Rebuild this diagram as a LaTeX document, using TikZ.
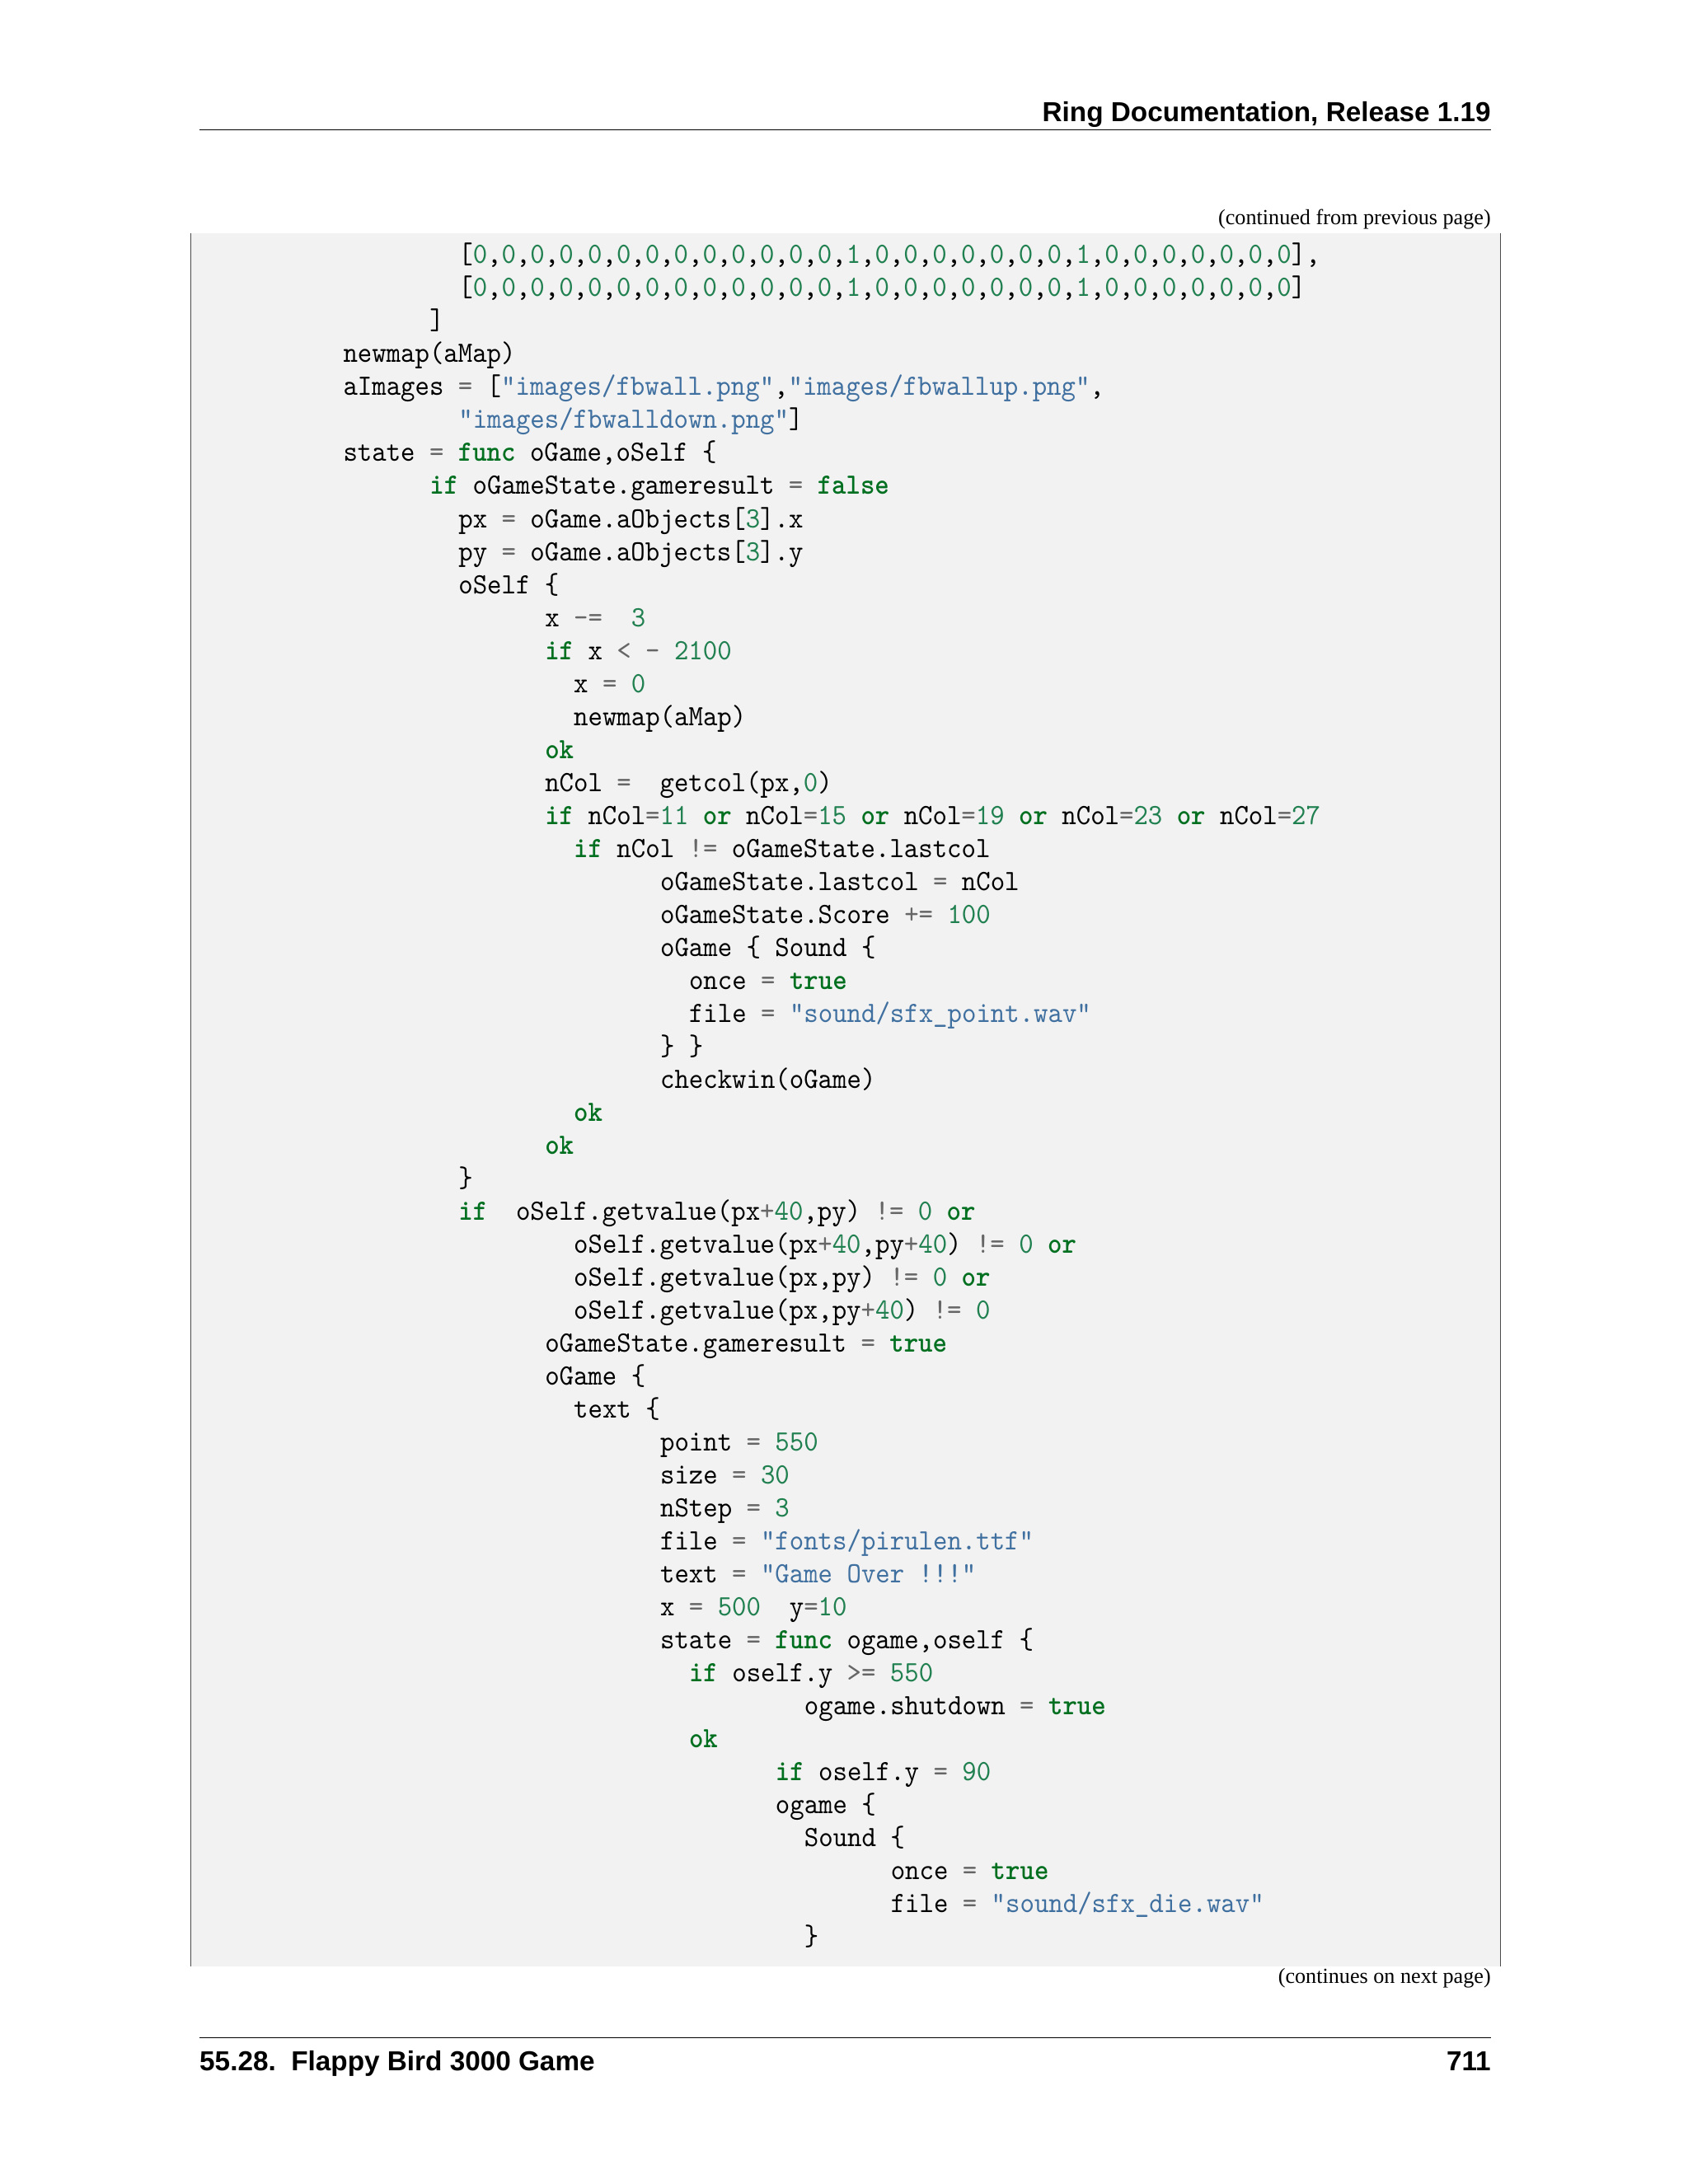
\documentclass[tikz,border=0pt]{standalone}
\usepackage{fontspec}
\setmainfont{Liberation Serif}
\newfontfamily\hdfont{Liberation Sans}
\newfontfamily\code{lmmono10-regular.otf}[BoldFont=lmmonolt10-bold.otf,FakeStretch=0.93,Ligatures=ResetAll]
\definecolor{kw}{HTML}{007020}
\definecolor{nu}{HTML}{208050}
\definecolor{st}{HTML}{4070A0}
\definecolor{op}{HTML}{666666}
\definecolor{bg}{HTML}{F2F2F2}
\newcommand\cK[1]{\textcolor{kw}{\bfseries #1}}
\newcommand\cN[1]{\textcolor{nu}{#1}}
\newcommand\cO[1]{\textcolor{op}{#1}}
\newcommand\cS[1]{\textcolor{st}{#1}}
\newcommand\Zr{\cN{0}}
\newcommand\On{\cN{1}}
\newcommand\rowA{[\Zr,\Zr,\Zr,\Zr,\Zr,\Zr,\Zr,\Zr,\Zr,\Zr,\Zr,\Zr,\Zr,\On,\Zr,\Zr,\Zr,\Zr,\Zr,\Zr,\Zr,\On,\Zr,\Zr,\Zr,\Zr,\Zr,\Zr,\Zr]}
\tikzset{codeline/.style={anchor=base west,inner sep=0pt,font=\code\fontsize{30}{30}\selectfont},
 hdtext/.style={inner sep=0pt,font=\hdfont\bfseries\fontsize{28}{28}\selectfont},
 smalltext/.style={anchor=base east,inner sep=0pt,font=\fontsize{22}{22}\selectfont}}
\newcommand\CL[3]{\node[codeline] (l#1) at ({246+#2*10.33},{183+(#1-1)*23.65+6}) {#3};}
\begin{document}
\begin{tikzpicture}[x=0.05cm,y=-0.05cm]
\useasboundingbox (0,0) rectangle (1210,1566);
\node[hdtext,anchor=base east] (hd) at (1069,87) {Ring Documentation, Release 1.19};
\draw[line width=0.8pt] (143,93) -- (1069,93);
\node[smalltext] (cont) at (1069,161) {(continued from previous page)};
\fill[bg] (137,167) rectangle (1076,1410);
\draw[line width=1pt,black!70] (137,167) -- (137,1410);
\draw[line width=1pt,black!70] (1076,167) -- (1076,1410);
\CL{1}{8}{\rowA,}
\CL{2}{8}{\rowA}
\CL{3}{6}{]}
\CL{4}{0}{newmap(aMap)}
\CL{5}{0}{aImages \cO{=} [\cS{"images/fbwall.png"},\cS{"images/fbwallup.png"},}
\CL{6}{8}{\cS{"images/fbwalldown.png"}]}
\CL{7}{0}{state \cO{=} \cK{func} oGame,oSelf \{}
\CL{8}{6}{\cK{if} oGameState.gameresult \cO{=} \cK{false}}
\CL{9}{8}{px \cO{=} oGame.aObjects[\cN{3}].x}
\CL{10}{8}{py \cO{=} oGame.aObjects[\cN{3}].y}
\CL{11}{8}{oSelf \{}
\CL{12}{14}{x \cO{-=}\ \ \cN{3}}
\CL{13}{14}{\cK{if} x \cO{<} \cO{-} \cN{2100}}
\CL{14}{16}{x \cO{=} \cN{0}}
\CL{15}{16}{newmap(aMap)}
\CL{16}{14}{\cK{ok}}
\CL{17}{14}{nCol \cO{=}\ \ getcol(px,\cN{0})}
\CL{18}{14}{\cK{if} nCol\cO{=}\cN{11} \cK{or} nCol\cO{=}\cN{15} \cK{or} nCol\cO{=}\cN{19} \cK{or} nCol\cO{=}\cN{23} \cK{or} nCol\cO{=}\cN{27}}
\CL{19}{16}{\cK{if} nCol \cO{!=} oGameState.lastcol}
\CL{20}{22}{oGameState.lastcol \cO{=} nCol}
\CL{21}{22}{oGameState.Score \cO{+=} \cN{100}}
\CL{22}{22}{oGame \{ Sound \{}
\CL{23}{24}{once \cO{=} \cK{true}}
\CL{24}{24}{file \cO{=} \cS{"sound/sfx\_point.wav"}}
\CL{25}{22}{\} \}}
\CL{26}{22}{checkwin(oGame)}
\CL{27}{16}{\cK{ok}}
\CL{28}{14}{\cK{ok}}
\CL{29}{8}{\}}
\CL{30}{8}{\cK{if}\ \ oSelf.getvalue(px\cO{+}\cN{40},py) \cO{!=} \cN{0} \cK{or}}
\CL{31}{16}{oSelf.getvalue(px\cO{+}\cN{40},py\cO{+}\cN{40}) \cO{!=} \cN{0} \cK{or}}
\CL{32}{16}{oSelf.getvalue(px,py) \cO{!=} \cN{0} \cK{or}}
\CL{33}{16}{oSelf.getvalue(px,py\cO{+}\cN{40}) \cO{!=} \cN{0}}
\CL{34}{14}{oGameState.gameresult \cO{=} \cK{true}}
\CL{35}{14}{oGame \{}
\CL{36}{16}{text \{}
\CL{37}{22}{point \cO{=} \cN{550}}
\CL{38}{22}{size \cO{=} \cN{30}}
\CL{39}{22}{nStep \cO{=} \cN{3}}
\CL{40}{22}{file \cO{=} \cS{"fonts/pirulen.ttf"}}
\CL{41}{22}{text \cO{=} \cS{"Game Over !!!"}}
\CL{42}{22}{x \cO{=} \cN{500}\ \ y\cO{=}\cN{10}}
\CL{43}{22}{state \cO{=} \cK{func} ogame,oself \{}
\CL{44}{24}{\cK{if} oself.y \cO{>=} \cN{550}}
\CL{45}{32}{ogame.shutdown \cO{=} \cK{true}}
\CL{46}{24}{\cK{ok}}
\CL{47}{30}{\cK{if} oself.y \cO{=} \cN{90}}
\CL{48}{30}{ogame \{}
\CL{49}{32}{Sound \{}
\CL{50}{38}{once \cO{=} \cK{true}}
\CL{51}{38}{file \cO{=} \cS{"sound/sfx\_die.wav"}}
\CL{52}{32}{\}}
\node[smalltext] (cnext) at (1069,1422) {(continues on next page)};
\draw[line width=0.8pt] (143,1461) -- (1069,1461);
\node[hdtext,anchor=base west] (ft) at (143,1485) {55.28.\ \ Flappy Bird 3000 Game};
\node[hdtext,anchor=base east] (pg) at (1069,1485) {711};
\end{tikzpicture}
\end{document}
